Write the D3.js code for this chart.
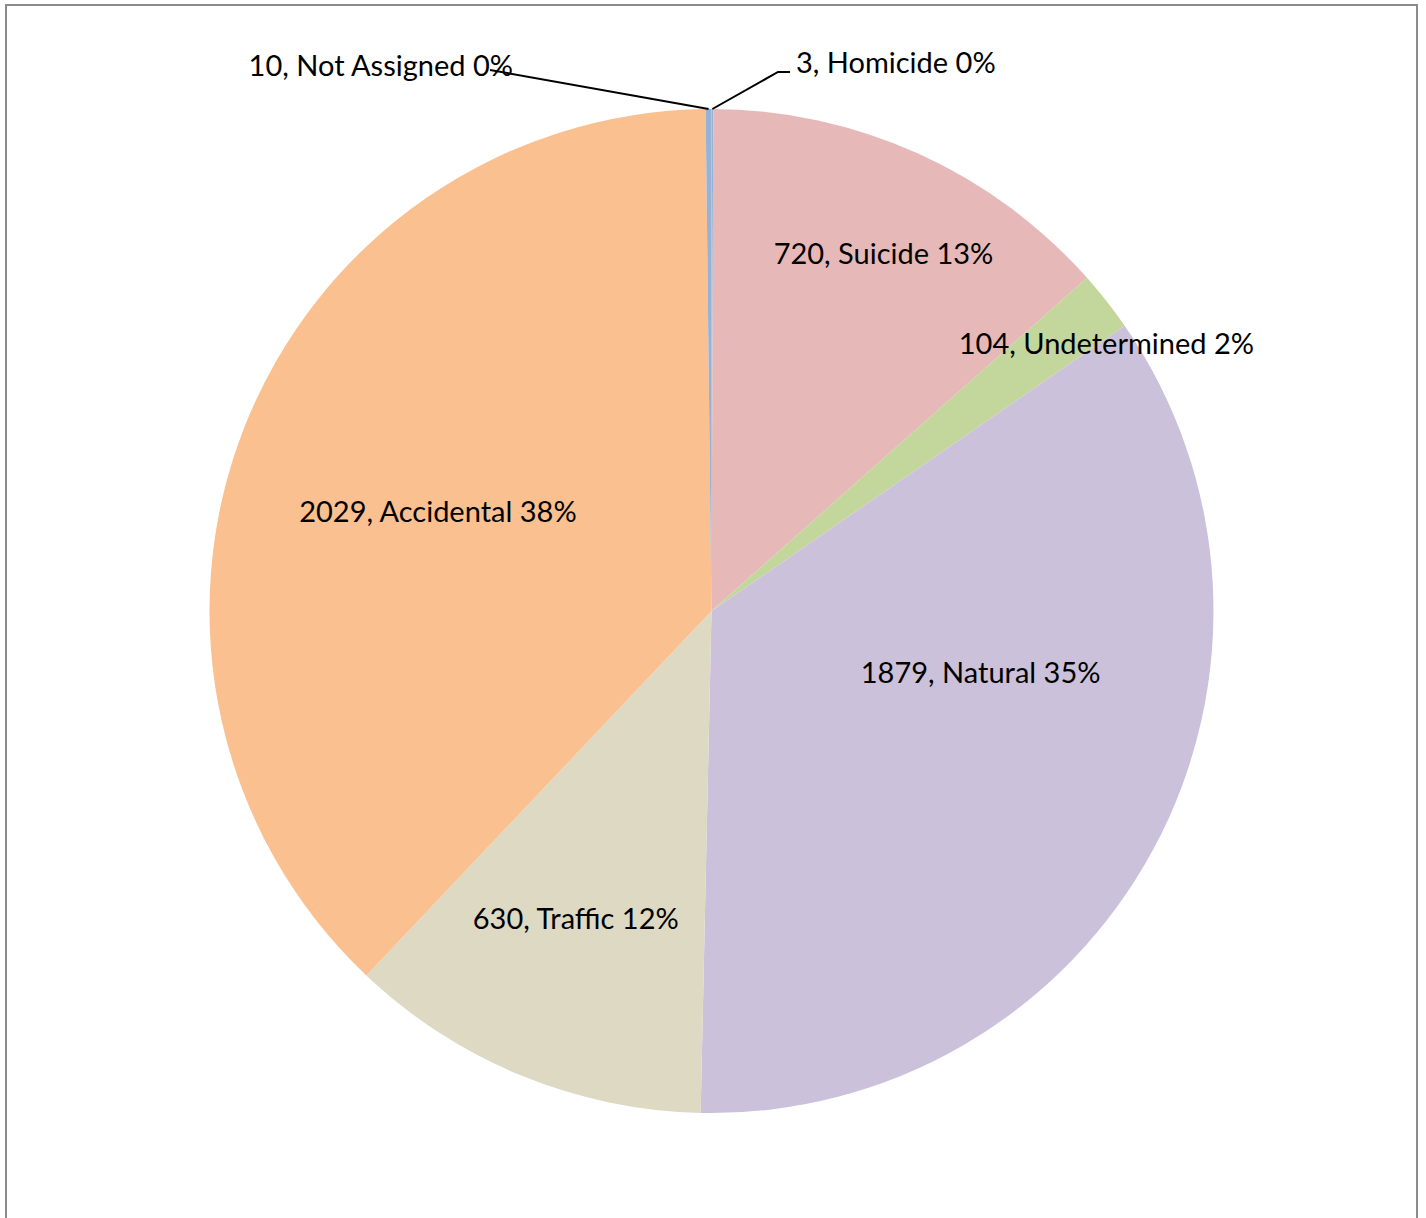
<!DOCTYPE html>
<html lang="en">
<head>
<meta charset="UTF-8">
<title>Pie</title>
<style>
  html, body { margin: 0; padding: 0; background: #fff; overflow: hidden; }
  svg text { font-family: Lato, "Open Sans", sans-serif; font-size: 29px; fill: #000; }
</style>
</head>
<body>
<svg id="chart" width="1426" height="1218"></svg>
<script src="https://d3js.org/d3.v7.min.js"></script>
<script>
// data, clockwise from 12 o'clock
const categories = ['Homicide', 'Suicide', 'Undetermined', 'Natural', 'Traffic', 'Accidental', 'Not Assigned'];
const counts = [3, 720, 104, 1879, 630, 2029, 10];
const percents = ['0%', '13%', '2%', '35%', '12%', '38%', '0%'];
const colors = ['#95b3d7', '#e6b9b8', '#c3d69b', '#ccc1da', '#ddd9c3', '#fac090', '#95b3d7'];

// where each inside label sits: angle (deg, clockwise from top) and radius fraction
const labelPos = [null, [25.7, 0.79], [55.9, 0.95], [102.9, 0.55], [203.8, 0.67], [290, 0.58], null];

const cx = 711.5, cy = 611, R = 502;

const svg = d3.select('#chart');

// chart frame
svg.append('rect')
  .attr('x', 6).attr('y', 5)
  .attr('width', 1411).attr('height', 1230)
  .attr('fill', 'none')
  .attr('stroke', '#8c8c8c')
  .attr('stroke-width', 2);

const pie = d3.pie().sort(null).value(d => d.v);
const arcs = pie(categories.map((c, i) => ({ c, v: counts[i], i })));
const arc = d3.arc().innerRadius(0).outerRadius(R);

const g = svg.append('g').attr('transform', `translate(${cx},${cy})`);

g.selectAll('path')
  .data(arcs)
  .enter()
  .append('path')
  .attr('d', arc)
  .attr('fill', d => colors[d.data.i]);

const polar = (deg, r) => {
  const a = deg * Math.PI / 180;
  return [r * Math.sin(a), -r * Math.cos(a)];
};

// inside labels
g.selectAll('text.in')
  .data(arcs.filter(d => labelPos[d.data.i]))
  .enter()
  .append('text')
  .attr('class', 'in')
  .attr('text-anchor', 'middle')
  .attr('dy', '0.35em')
  .attr('transform', d => {
    const [a, f] = labelPos[d.data.i];
    const [x, y] = polar(a, f * R);
    return `translate(${x},${y})`;
  })
  .text(d => `${d.data.v}, ${d.data.c} ${percents[d.data.i]}`);

// outside labels with leader lines (offsets from pie centre)
const outer = [
  { i: 0, elbow: [66.5, -539], end: [78.5, -539], anchor: 'start', tx: 84.5, ty: -548 },
  { i: 6, elbow: [-221.5, -541], end: [-221.5, -541], anchor: 'end', tx: -198.5, ty: -545 }
];

outer.forEach(o => {
  const d = arcs[o.i];
  const mid = (d.startAngle + d.endAngle) / 2;
  const p0 = [R * Math.sin(mid), -R * Math.cos(mid)];
  g.append('polyline')
    .attr('points', [p0, o.elbow, o.end].map(p => p.join(',')).join(' '))
    .attr('fill', 'none')
    .attr('stroke', '#000')
    .attr('stroke-width', 2);
  g.append('text')
    .attr('x', o.tx).attr('y', o.ty)
    .attr('dy', '0.35em')
    .attr('text-anchor', o.anchor)
    .text(`${d.data.v}, ${d.data.c} ${percents[o.i]}`);
});
</script>
</body>
</html>
